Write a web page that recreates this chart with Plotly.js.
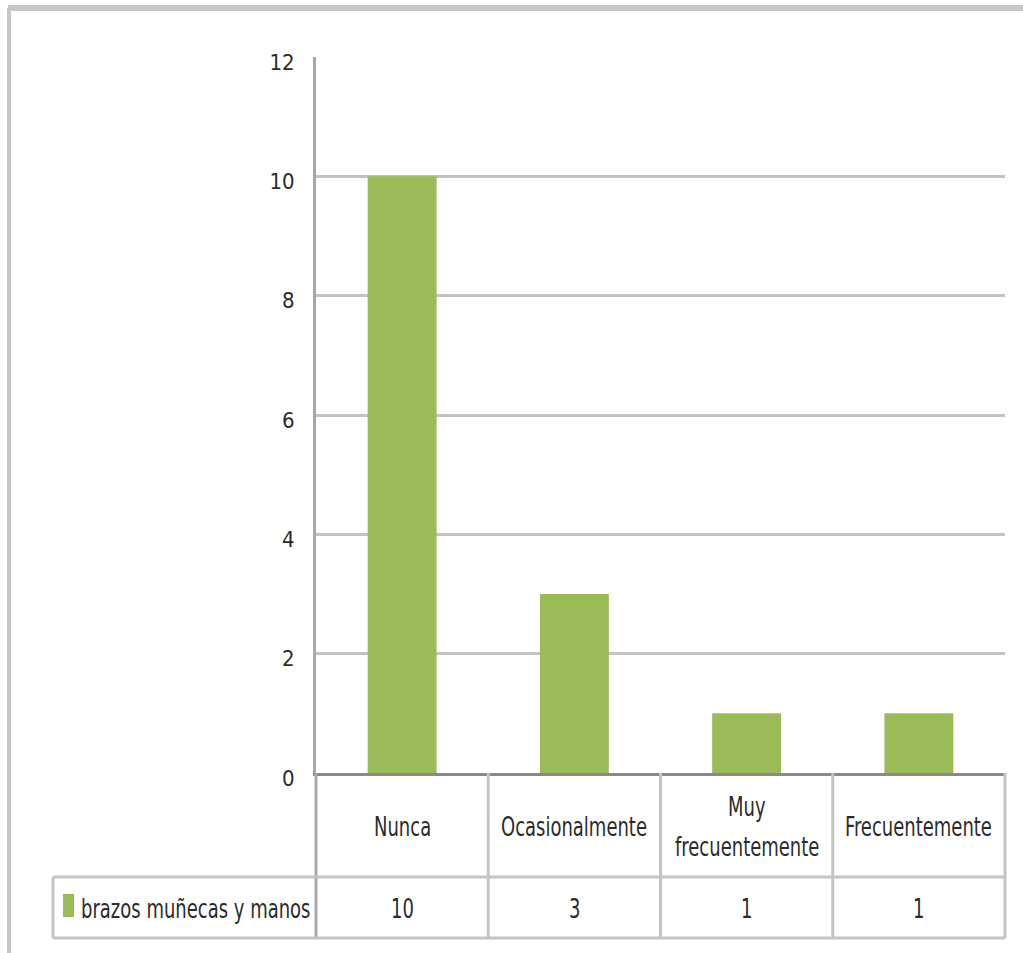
<!DOCTYPE html>
<html>
<head>
<meta charset="utf-8">
<script src="https://cdn.plot.ly/plotly-3.0.1.min.js"></script>
<style>
  html, body { margin: 0; padding: 0; background: #fff; }
  #chart { width: 1023px; height: 953px; }
  /* tall, narrow lettering for the table text */
  #chart .annotation-text {
    transform-box: fill-box;
    transform-origin: center;
    transform: scaleY(1.3);
  }
</style>
</head>
<body>
<div id="chart"></div>
<script>
// Chart data
const categories = ["Nunca", "Ocasionalmente", "Muy<br>frecuentemente", "Frecuentemente"];
const values = [10, 3, 1, 1];
const seriesName = "brazos muñecas y manos";
const yTicks = [0, 2, 4, 6, 8, 10, 12];

// Page geometry (pixels) for the plot area and the data table under it
const W = 1023, H = 953;
const PL = 316, PR = 1005, PT = 57, PB = 773;
const TABLE_MID = 877, TABLE_BOT = 938, LEGEND_LEFT = 53;

const xp = px => (px - PL) / (PR - PL);
const yp = py => (PB - py) / (PB - PT);

const FONT = "'Liberation Sans Narrow', 'Arial Narrow', 'DejaVu Sans Condensed', 'Liberation Sans', sans-serif";
const TEXT = "#2b2b2b";
const GREEN = "#9bbb59";
const GRID = "#c3c3c3";
const TABLE_LINE = "#c4c4c4";
const FS = 20;

const trace = {
  type: "bar",
  x: categories,
  y: values,
  name: seriesName,
  marker: { color: GREEN },
  hoverinfo: "skip",
  showlegend: false
};

const line = (x0, y0, x1, y1, color, width) => ({
  type: "line", xref: "paper", yref: "paper",
  x0: xp(x0), y0: yp(y0), x1: xp(x1), y1: yp(y1),
  line: { color: color, width: width }, layer: "above"
});

const shapes = [
  // outer chart frame
  line(8, 8, W, 8, "#c6c6c6", 6),
  line(9, 8, 9, H, "#c6c6c6", 4),
  // vertical axis continued through the table
  line(PL, PB, PL, TABLE_BOT, "#a8a8a8", 3),
  // table rows
  line(LEGEND_LEFT, TABLE_MID, PR, TABLE_MID, TABLE_LINE, 3),
  line(LEGEND_LEFT, TABLE_BOT, PR, TABLE_BOT, TABLE_LINE, 3),
  line(LEGEND_LEFT, TABLE_MID, LEGEND_LEFT, TABLE_BOT, TABLE_LINE, 3),
  line(PR, PB, PR, TABLE_BOT, TABLE_LINE, 3),
  // legend key
  {
    type: "rect", xref: "paper", yref: "paper",
    x0: xp(63), x1: xp(74), y0: yp(917), y1: yp(894),
    fillcolor: GREEN, line: { width: 0 }
  }
];

// column separators between categories
const colW = (PR - PL) / categories.length;
for (let i = 1; i < categories.length; i++) {
  const x = PL + colW * i;
  shapes.push(line(x, PB, x, TABLE_BOT, TABLE_LINE, 3));
}

const annotations = [];
const LINE_GAP = 40;
categories.forEach((c, i) => {
  const lines = c.split("<br>");
  const mid = (PB + TABLE_MID) / 2 + 2;
  lines.forEach((t, k) => {
    annotations.push({
      x: c, xref: "x", y: yp(mid + (k - (lines.length - 1) / 2) * LINE_GAP), yref: "paper",
      text: t, showarrow: false, xanchor: "center", yanchor: "middle",
      font: { family: FONT, size: FS, color: TEXT }
    });
  });
  annotations.push({
    x: c, xref: "x", y: yp((TABLE_MID + TABLE_BOT) / 2 + 2), yref: "paper",
    text: String(values[i]), showarrow: false, xanchor: "center", yanchor: "middle",
    font: { family: FONT, size: FS, color: TEXT }
  });
});
annotations.push({
  x: xp(79), xref: "paper", y: yp((TABLE_MID + TABLE_BOT) / 2 + 2), yref: "paper",
  text: seriesName, showarrow: false, xanchor: "left", yanchor: "middle",
  font: { family: FONT, size: FS, color: TEXT }
});

const layout = {
  width: W, height: H,
  margin: { l: PL, r: W - PR, t: PT, b: H - PB, pad: 0 },
  paper_bgcolor: "#ffffff",
  plot_bgcolor: "#ffffff",
  bargap: 0.6,
  showlegend: false,
  xaxis: {
    type: "category",
    range: [-0.5, categories.length - 0.5],
    showticklabels: false,
    ticks: "",
    showgrid: false,
    zeroline: false,
    showline: true,
    linecolor: "#8a8a8a",
    linewidth: 3,
    fixedrange: true
  },
  yaxis: {
    range: [0, 12],
    tickvals: yTicks,
    ticktext: yTicks.map(String),
    ticks: "",
    ticklabelstandoff: 14,
    ticklabelshift: 5,
    tickfont: { family: FONT, size: 22, color: TEXT },
    showgrid: true,
    gridcolor: GRID,
    gridwidth: 3,
    zeroline: false,
    showline: true,
    linecolor: "#a8a8a8",
    linewidth: 3,
    fixedrange: true
  },
  shapes: shapes,
  annotations: annotations
};

Plotly.newPlot("chart", [trace], layout, { displayModeBar: false, staticPlot: true });
</script>
</body>
</html>
